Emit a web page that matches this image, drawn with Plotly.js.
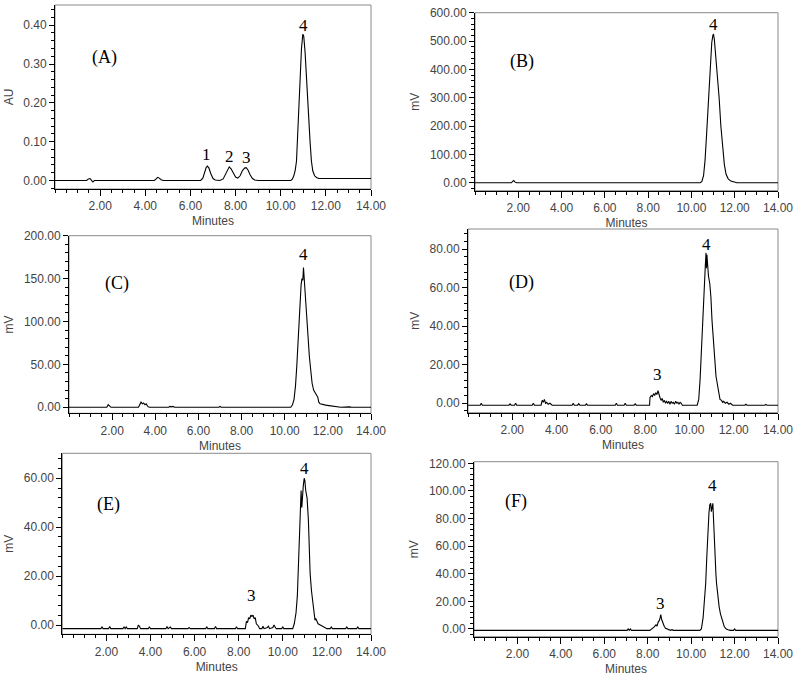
<!DOCTYPE html>
<html>
<head>
<meta charset="utf-8">
<script src="https://cdn.plot.ly/plotly-3.0.1.min.js"></script>
<style>
  html, body { margin: 0; padding: 0; background: #fff; }
  #chart { width: 800px; height: 678px; }
</style>
</head>
<body>
<div id="chart"></div>
<script>
// retention time (min) and detector signal
const timeA = [0, 1.40, 1.48, 1.55, 1.62, 1.68, 1.75, 1.85, 4.40, 4.48,
               4.55, 4.62, 4.70, 4.80, 6.45, 6.55, 6.62, 6.70, 6.75, 6.82,
               6.90, 7.00, 7.10, 7.30, 7.45, 7.55, 7.65, 7.72, 7.80, 7.90,
               8.00, 8.10, 8.20, 8.30, 8.40, 8.47, 8.55, 8.65, 8.75, 8.85,
               9.00, 10.45, 10.52, 10.58, 10.64, 10.70, 10.78, 10.85, 10.92, 10.98,
               11.02, 11.08, 11.15, 11.22, 11.30, 11.36, 11.42, 11.50, 11.60, 11.70,
               11.80, 14]
const auA = [0, 0, 0.004, 0.005, 0, -0.004, 0, 0, 0, 0.004,
             0.008, 0.006, 0.002, 0, 0, 0.006, 0.020, 0.034, 0.037, 0.032,
             0.018, 0.005, 0.001, 0, 0.004, 0.016, 0.030, 0.035, 0.030, 0.018,
             0.009, 0.006, 0.012, 0.025, 0.032, 0.033, 0.027, 0.014, 0.005, 0.001,
             0, 0, 0.004, 0.012, 0.025, 0.050, 0.160, 0.270, 0.340, 0.377,
             0.372, 0.330, 0.250, 0.170, 0.100, 0.050, 0.025, 0.012, 0.007, 0.005,
             0.005, 0.005]

const timeB = [0, 1.68, 1.74, 1.79, 1.84, 1.92, 10.40, 10.48, 10.56, 10.63,
               10.70, 10.76, 10.82, 10.88, 10.94, 10.99, 11.02, 11.06, 11.12, 11.20,
               11.28, 11.36, 11.44, 11.52, 11.60, 11.70, 11.82, 11.95, 12.10, 14]
const mvB = [0, 0, 5, 8, 3, 0, 0, 4, 25, 80,
             170, 260, 350, 430, 495, 520, 525, 505, 455, 380,
             300, 200, 120, 65, 30, 14, 6, 2, 0, 0]

const timeC = [0, 1.75, 1.82, 1.88, 1.95, 3.22, 3.28, 3.34, 3.40, 3.46,
               3.52, 3.58, 3.65, 3.72, 4.62, 4.68, 4.75, 4.82, 4.90, 6.95,
               7.00, 7.06, 10.28, 10.36, 10.43, 10.50, 10.56, 10.62, 10.68, 10.73,
               10.76, 10.80, 10.84, 10.87, 10.90, 10.96, 11.02, 11.08, 11.14, 11.20,
               11.27, 11.34, 11.41, 11.48, 11.53, 11.58, 11.64, 11.75, 11.90, 12.05,
               12.20, 12.35, 12.60, 13.00, 13.10, 13.40, 14]
const mvC = [0, 0, 3, 1, 0, 0, 3, 6, 4, 5,
             3, 4, 1, 0, 0, 1, 0.5, 1, 0, 0,
             1, 0, 0, 3, 9, 25, 48, 80, 108, 140,
             143, 150, 148, 163, 150, 128, 110, 85, 60, 45,
             28, 20, 16, 14, 12, 6, 4, 3, 2.5, 2,
             1.5, 0.5, 0, 0.5, 0, 0, 0]

const timeD = [0, 0.55, 0.60, 0.65, 1.85, 1.90, 1.95, 2.10, 2.15, 2.20,
               2.90, 2.95, 3.00, 3.30, 3.35, 3.40, 3.45, 3.50, 3.55, 3.62,
               3.70, 3.80, 4.70, 4.75, 4.80, 4.95, 5.00, 5.05, 5.30, 5.35,
               5.40, 6.65, 6.70, 6.75, 7.05, 7.10, 7.15, 7.50, 7.55, 7.60,
               8.20, 8.22, 8.28, 8.33, 8.38, 8.43, 8.48, 8.53, 8.58, 8.62,
               8.67, 8.72, 8.77, 8.82, 8.87, 8.92, 8.97, 9.02, 9.07, 9.12,
               9.17, 9.22, 9.27, 9.32, 9.38, 9.43, 9.48, 9.53, 9.58, 9.63,
               9.68, 10.35, 10.42, 10.48, 10.53, 10.58, 10.63, 10.68, 10.72, 10.75,
               10.77, 10.79, 10.82, 10.86, 10.92, 10.97, 11.02, 11.08, 11.14, 11.20,
               11.26, 11.32, 11.38, 11.45, 11.50, 11.55, 11.62, 11.70, 11.78, 11.85,
               11.95, 12.50, 12.55, 12.60, 13.40, 13.45, 13.50, 14]
const mvD = [-1, -1, 0, -1, -1, -0.3, -1, -1, 0, -1,
             -1, 0, -1, -1, 1.5, 0.5, 2, 0, 0.5, -0.5,
             0, -1, -1, 0, -1, -1, -0.2, -1, -1, -0.3,
             -1, -1, 0, -1, -1, 0, -1, -1, -0.3, -1,
             -1, 3, 4, 3.5, 5, 4, 5.5, 4.5, 6.5, 4,
             3, 1.5, 2.5, 0.5, 1.5, 0, 1, 0, 1, -0.5,
             1, 0, 0.5, -0.5, 1, 0, 0.5, -0.5, 0.5, 0,
             -1, -1, 2, 12, 26, 42, 55, 63, 72, 78,
             70, 77, 68, 66, 62, 55, 43, 32, 22, 14,
             10, 5, 2, 1.5, 0.5, 1, 0, 0.5, -0.5, 0,
             -1, -1, -0.5, -1, -1, -0.6, -1, -1]

const timeE = [0, 1.75, 1.80, 1.85, 2.10, 2.15, 2.20, 2.75, 2.80, 2.85,
               2.90, 2.95, 3.40, 3.45, 3.50, 3.55, 3.90, 3.95, 4.00, 4.70,
               4.75, 4.80, 4.90, 4.95, 5.70, 5.75, 5.80, 6.50, 6.55, 6.60,
               6.90, 6.95, 7.00, 7.85, 7.90, 7.95, 8.30, 8.35, 8.40, 8.45,
               8.50, 8.55, 8.60, 8.65, 8.70, 8.75, 8.80, 8.85, 8.90, 8.95,
               9.05, 9.10, 9.15, 9.30, 9.35, 9.40, 9.55, 9.60, 9.65, 9.70,
               9.95, 10.00, 10.05, 10.45, 10.52, 10.60, 10.66, 10.72, 10.76, 10.80,
               10.83, 10.86, 10.89, 10.93, 10.97, 11.00, 11.04, 11.10, 11.16, 11.20,
               11.24, 11.30, 11.36, 11.42, 11.46, 11.50, 11.55, 11.60, 11.70, 11.80,
               11.90, 12.00, 12.15, 12.20, 12.25, 12.85, 12.90, 12.95, 13.35, 13.40,
               13.45, 14]
const mvE = [-1.5, -1.5, -0.8, -1.5, -1.5, -0.6, -1.5, -1.5, -0.7, -1.5,
             -0.8, -1.5, -1.5, 0, -0.5, -1.5, -1.5, -0.7, -1.5, -1.5,
             -0.6, -1.5, -0.8, -1.5, -1.5, -1, -1.5, -1.5, -0.8, -1.5,
             -1.5, -0.6, -1.5, -1.5, -0.7, -1.5, -1.5, 1.5, 1, 3,
             2.5, 4, 3.5, 4, 2.5, 3, 0.5, 0, -0.5, -1.5,
             -1.5, -0.5, -1.5, -1, -0.5, -1.5, -1, 0, -1, -1.5,
             -1.5, -0.8, -1.5, -1.5, 0.5, 5, 12, 28, 43, 52,
             55, 48, 53, 57, 60, 59, 55, 52, 43, 30,
             21, 14, 9.5, 5, 2, 2.5, 1, 0.5, 0, -0.5,
             -1, -1.5, -1.5, -0.8, -1.5, -1.5, -0.8, -1.5, -1.5, -0.8,
             -1.5, -1.5]

const timeF = [0, 4.55, 4.60, 4.65, 7.05, 7.10, 7.15, 7.20, 7.25, 8.10,
               8.20, 8.30, 8.38, 8.43, 8.48, 8.53, 8.57, 8.60, 8.64, 8.70,
               8.76, 8.82, 8.90, 8.97, 9.05, 9.12, 9.18, 10.40, 10.47, 10.55,
               10.62, 10.67, 10.72, 10.77, 10.82, 10.86, 10.90, 10.93, 10.96, 11.00,
               11.03, 11.07, 11.10, 11.14, 11.17, 11.22, 11.29, 11.35, 11.40, 11.44,
               11.48, 11.52, 11.56, 11.62, 11.70, 11.80, 11.95, 12.00, 12.05, 12.20,
               12.25, 12.30, 12.50, 12.55, 12.60, 13.50, 13.55, 13.60, 14]
const mvF = [-1, -1, -0.5, -1, -1, 0, -1, 0, -1, -1,
             0, 1.5, 3, 2, 5, 6, 8, 10.5, 7, 4,
             2, 0.5, 0, -0.5, -1, -0.5, -1, -1, 0, 8,
             22, 33, 52, 70, 84, 90, 91, 85, 90, 91,
             80, 62, 50, 40, 33, 24, 16, 11, 8, 7.7,
             4, 2, 1, 0, -0.5, -1, -1, 0, -1, -1,
             -0.5, -1, -1, -0.5, -1, -1, -0.5, -1, -1]

const panelLetters = ['(A)', '(B)', '(C)', '(D)', '(E)', '(F)']
const yUnits = ['AU', 'mV', 'mV', 'mV', 'mV', 'mV']

// peak numbers: [panel, label, time, height of the label]
const peakLabels = [
    [0, '1', 6.73, 0.068], [0, '2', 7.75, 0.063], [0, '3', 8.48, 0.060], [0, '4', 10.99, 0.400],
    [1, '4', 11.02, 560],
    [2, '4', 10.86, 178],
    [3, '3', 8.55, 14.7], [3, '4', 10.77, 82.5],
    [4, '3', 8.60, 11.9], [4, '4', 10.97, 63.8],
    [5, '3', 8.60, 18.8], [5, '4', 10.98, 104]
]

const series = [
    [timeA, auA], [timeB, mvB], [timeC, mvC],
    [timeD, mvD], [timeE, mvE], [timeF, mvF]
]

// panel boxes in pixels: [left, right, top, bottom]
const W = 800, H = 678
const boxes = [
    [55, 371, 5, 189],
    [475, 778, 12.7, 190.7],
    [69, 371, 235.7, 413.3],
    [468, 778, 229, 412.7],
    [62.3, 371, 453.3, 634.3],
    [474, 778, 461.7, 636.7]
]
const yRanges = [[-0.022, 0.452], [-28, 600], [-7, 200], [-4.9, 90.4], [-3.8, 70.2], [-5.6, 121.2]]
const yDticks = [0.1, 100, 50, 20, 20, 20]
const yMinor = [0.02, 20, 10, 4, 4, 4]
const letterPos = [[0.11, 0.78], [0.109, 0.796], [0.113, 0.803], [0.126, 0.777], [0.106, 0.788], [0.095, 0.844]]

const tickFont = { family: 'Arial, Liberation Sans, sans-serif', size: 12, color: '#444' }
const letterFont = { family: 'Liberation Serif, Times New Roman, serif', size: 18, color: '#000' }
const peakFont = { family: 'Liberation Serif, Times New Roman, serif', size: 17, color: '#000' }

let data = []
let layout = {
    width: W,
    height: H,
    margin: { l: 0, r: 0, t: 0, b: 0 },
    paper_bgcolor: '#fff',
    plot_bgcolor: '#fff',
    showlegend: false,
    annotations: [],
    shapes: [],
}

series.forEach(([t, v], i) => {
    const n = i === 0 ? '' : String(i + 1)
    const [l, r, top, bot] = boxes[i]
    data.push({
        x: t,
        y: v,
        xaxis: 'x' + n,
        yaxis: 'y' + n,
        type: 'scatter',
        mode: 'lines',
        line: { color: '#000', width: 1.1 },
        hoverinfo: 'skip',
    })

    layout['xaxis' + n] = {
        domain: [l / W, r / W],
        anchor: 'y' + n,
        range: [0, 14],
        tickvals: [2, 4, 6, 8, 10, 12, 14],
        tickformat: '.2f',
        ticks: 'outside',
        ticklen: 6,
        tickcolor: '#000',
        showline: true,
        linecolor: '#000',
        linewidth: 1,
        showgrid: false,
        zeroline: false,
        tickfont: tickFont,
        minor: { ticks: 'outside', ticklen: 3, tick0: 0, dtick: 0.5, tickcolor: '#000', showgrid: false },
        title: { text: 'Minutes', font: tickFont, standoff: 4 },
    }
    layout['yaxis' + n] = {
        domain: [1 - bot / H, 1 - top / H],
        anchor: 'x' + n,
        range: yRanges[i],
        tick0: 0,
        dtick: yDticks[i],
        tickformat: '.2f',
        ticks: 'outside',
        ticklen: 5,
        tickcolor: '#000',
        showline: true,
        linecolor: '#000',
        linewidth: 1,
        showgrid: false,
        zeroline: false,
        tickfont: tickFont,
        minor: { ticks: 'outside', ticklen: 3, tick0: 0, dtick: yMinor[i], tickcolor: '#000', showgrid: false },
        title: { text: yUnits[i], font: tickFont, standoff: 7 },
    }

    // grey frame round the plot area
    layout.shapes.push({
        type: 'rect',
        xref: 'x' + n + ' domain',
        yref: 'y' + n + ' domain',
        x0: 0, x1: 1, y0: 0, y1: 1,
        line: { color: '#8a8a8a', width: 1 },
        layer: 'below',
    })

    layout.annotations.push({
        text: panelLetters[i],
        xref: 'x' + n + ' domain',
        yref: 'y' + n + ' domain',
        x: letterPos[i][0],
        y: letterPos[i][1],
        showarrow: false,
        font: letterFont,
    })
})

peakLabels.forEach(([p, txt, t, h]) => {
    const n = p === 0 ? '' : String(p + 1)
    layout.annotations.push({
        text: txt,
        xref: 'x' + n,
        yref: 'y' + n,
        x: t,
        y: h,
        showarrow: false,
        font: peakFont,
    })
})

Plotly.newPlot('chart', data, layout, { displayModeBar: false, staticPlot: true })
</script>
</body>
</html>
